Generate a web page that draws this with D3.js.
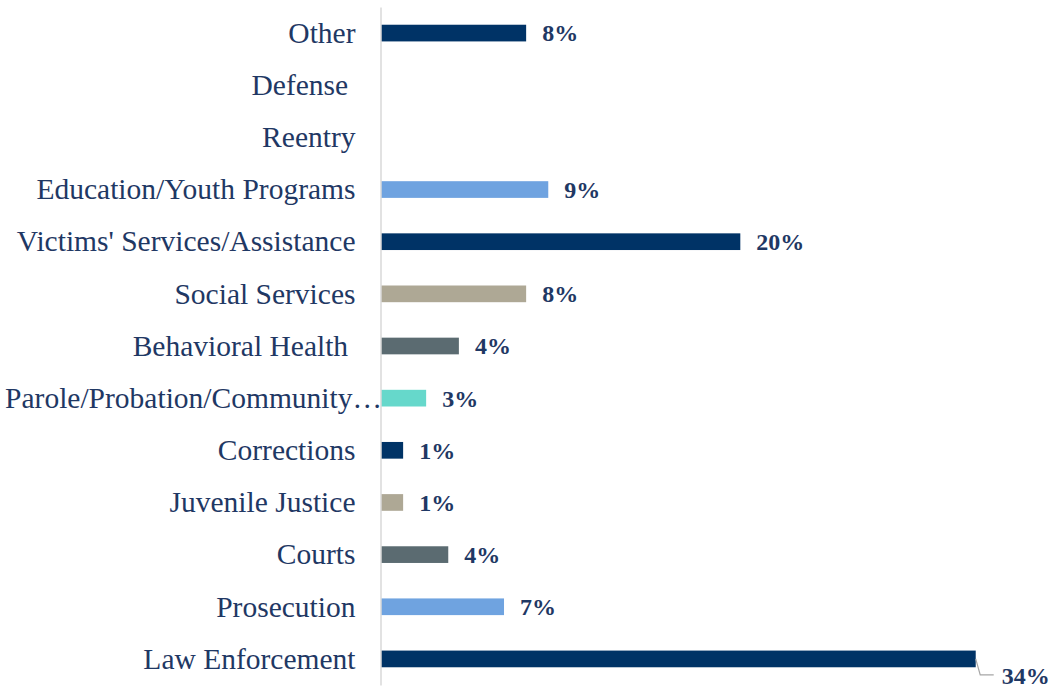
<!DOCTYPE html>
<html><head><meta charset="utf-8">
<script src="https://cdn.jsdelivr.net/npm/d3@7"></script>
<style>
  body { margin: 0; background: #fff; }
  text { font-family: "Liberation Serif", "Times New Roman", serif; }
</style>
</head><body>
<svg id="chart" width="1055" height="688"></svg>
<script>
// Share of funding by program area (percent)
const categories = [
  "Other", "Defense ", "Reentry", "Education/Youth Programs",
  "Victims' Services/Assistance", "Social Services", "Behavioral Health ",
  "Parole/Probation/Community…", "Corrections", "Juvenile Justice",
  "Courts", "Prosecution", "Law Enforcement"
];
const shares = [8.2, 0, 0, 9.45, 20.3, 8.2, 4.4, 2.55, 1.25, 1.25, 3.8, 6.95, 33.6];
const barColors = [
  "#003366", "#003366", "#003366", "#6fa3e0",
  "#003366", "#aea895", "#5b6b71",
  "#66d8cb", "#003366", "#aea895",
  "#5b6b71", "#6fa3e0", "#003366"
];

const svg = d3.select("#chart");
const textColor = "#1f3864";
const axisX = 380.5;

const x = d3.scaleLinear().domain([0, 40]).range([381, 381 + 708]);
const y = d3.scaleBand().domain(categories).range([7, 685])
  .paddingInner(0.68).paddingOuter(0.34);

const rows = categories.map((c, i) => ({ cat: c, v: shares[i], color: barColors[i] }));

// bars
svg.append("g").selectAll("rect")
  .data(rows.filter(d => d.v > 0))
  .join("rect")
  .attr("x", x(0))
  .attr("y", d => y(d.cat))
  .attr("width", d => x(d.v) - x(0))
  .attr("height", y.bandwidth())
  .attr("fill", d => d.color);

// category axis; a truncated label runs right up to the axis line
const axis = svg.append("g")
  .attr("transform", `translate(${axisX},0)`)
  .call(d3.axisLeft(y).tickSize(0).tickSizeOuter(0).tickPadding(25));
axis.select(".domain").attr("stroke", "#d9d9d9").attr("stroke-width", 1.5);
axis.selectAll(".tick text")
  .attr("fill", textColor)
  .style("font-family", '"Liberation Serif", "Times New Roman", serif')
  .style("font-size", "29.5px")
  .style("white-space", "pre")
  .attr("dy", "0.33em")
  .attr("x", d => d.endsWith("…") ? 1.5 : -25);

// value labels
const maxV = d3.max(shares);
const fmt = v => d3.format(".0f")(v) + "%";
const labels = svg.append("g")
  .style("font-size", "24px")
  .style("font-weight", "bold")
  .attr("fill", textColor);

labels.selectAll("text")
  .data(rows.filter(d => d.v > 0 && d.v < maxV))
  .join("text")
  .attr("x", d => x(d.v) + 16)
  .attr("y", d => y(d.cat) + y.bandwidth() / 2)
  .attr("dy", "0.35em")
  .text(d => fmt(d.v));

// largest bar: label sits below-right with a leader line
const biggest = rows.find(d => d.v === maxV);
const ex = x(biggest.v), ey = y(biggest.cat) + y.bandwidth() / 2;
svg.append("path")
  .attr("d", `M${ex},${ey} L${ex + 4.5},${ey + 16} L${ex + 18},${ey + 16}`)
  .attr("fill", "none")
  .attr("stroke", "#a6a6a6")
  .attr("stroke-width", 1.2);
labels.append("text")
  .attr("x", ex + 26)
  .attr("y", ey + 17)
  .attr("dy", "0.35em")
  .text(fmt(biggest.v));
</script>
</body></html>
